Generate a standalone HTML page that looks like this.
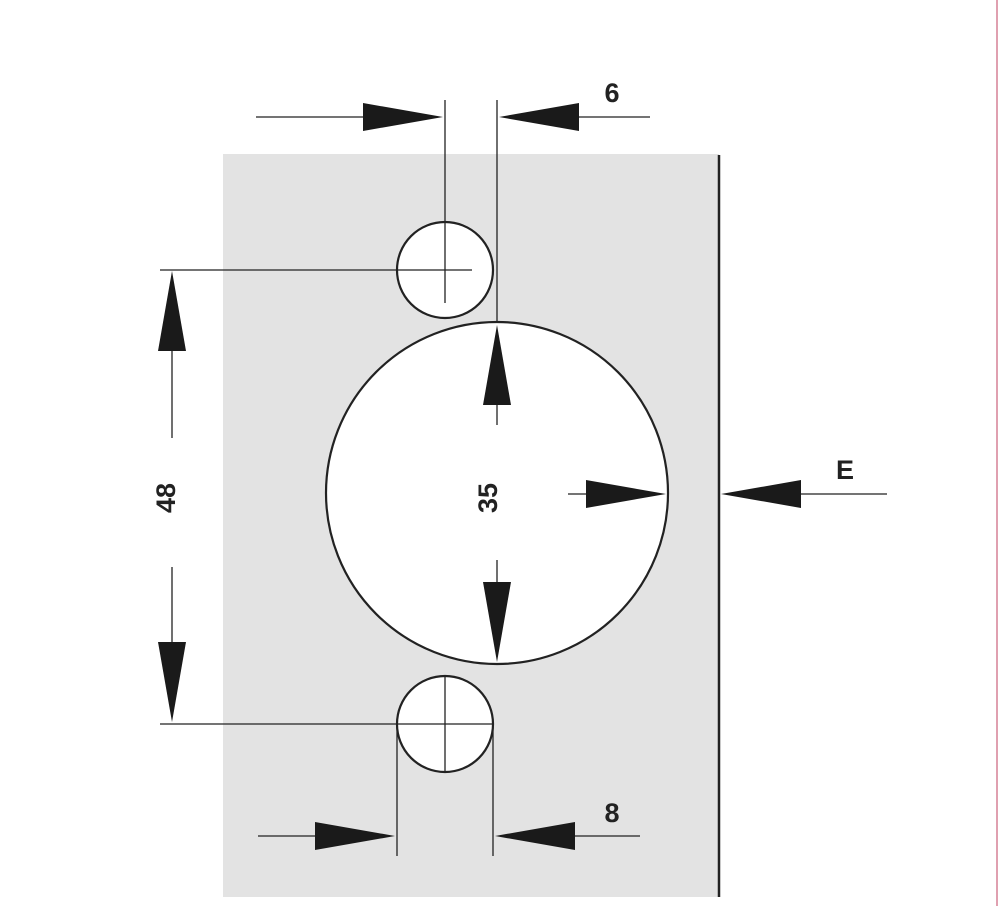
<!DOCTYPE html>
<html><head><style>html,body{margin:0;padding:0;background:#fff}svg{display:block}</style></head>
<body>
<svg width="1000" height="906" viewBox="0 0 1000 906" xmlns="http://www.w3.org/2000/svg">
<rect x="223" y="154" width="496" height="743" fill="#e3e3e3"/>
<line x1="719" y1="155" x2="719" y2="897" stroke="#222" stroke-width="2.5"/>
<line x1="997" y1="0" x2="997" y2="906" stroke="#e0a0b0" stroke-width="2"/>
<g stroke="#222" fill="#fff" stroke-width="2.2">
<circle cx="445" cy="270" r="48"/>
<circle cx="497" cy="493" r="171"/>
<circle cx="445" cy="724" r="48"/>
</g>
<g stroke="#222" stroke-width="1.3" fill="none">
<line x1="256" y1="117" x2="370" y2="117"/>
<line x1="570" y1="117" x2="650" y2="117"/>
<line x1="445" y1="100" x2="445" y2="303"/>
<line x1="497" y1="100" x2="497" y2="322"/>
<line x1="160" y1="270" x2="472" y2="270"/>
<line x1="172" y1="340" x2="172" y2="438"/>
<line x1="172" y1="567" x2="172" y2="650"/>
<line x1="160" y1="724" x2="493" y2="724"/>
<line x1="445" y1="676" x2="445" y2="772"/>
<line x1="397" y1="724" x2="397" y2="856"/>
<line x1="493" y1="724" x2="493" y2="856"/>
<line x1="258" y1="836" x2="320" y2="836"/>
<line x1="565" y1="836" x2="640" y2="836"/>
<line x1="497" y1="400" x2="497" y2="425"/>
<line x1="497" y1="560" x2="497" y2="590"/>
<line x1="568" y1="494" x2="595" y2="494"/>
<line x1="790" y1="494" x2="887" y2="494"/>
</g>
<g fill="#1a1a1a">
<polygon points="443,117 363,103 363,131"/>
<polygon points="499,117 579,103 579,131"/>
<polygon points="172,271 158,351 186,351"/>
<polygon points="172,722 158,642 186,642"/>
<polygon points="497,325 483,405 511,405"/>
<polygon points="497,662 483,582 511,582"/>
<polygon points="666,494 586,480 586,508"/>
<polygon points="721,494 801,480 801,508"/>
<polygon points="395,836 315,822 315,850"/>
<polygon points="495,836 575,822 575,850"/>
</g>
<g font-family="Liberation Sans, sans-serif" font-weight="bold" font-size="27" fill="#222">
<text x="612" y="102" text-anchor="middle">6</text>
<text x="845" y="479" text-anchor="middle">E</text>
<text x="612" y="822" text-anchor="middle">8</text>
<text transform="translate(175,498) rotate(-90)" text-anchor="middle">48</text>
<text transform="translate(497,498) rotate(-90)" text-anchor="middle">35</text>
</g>
</svg>
</body></html>
